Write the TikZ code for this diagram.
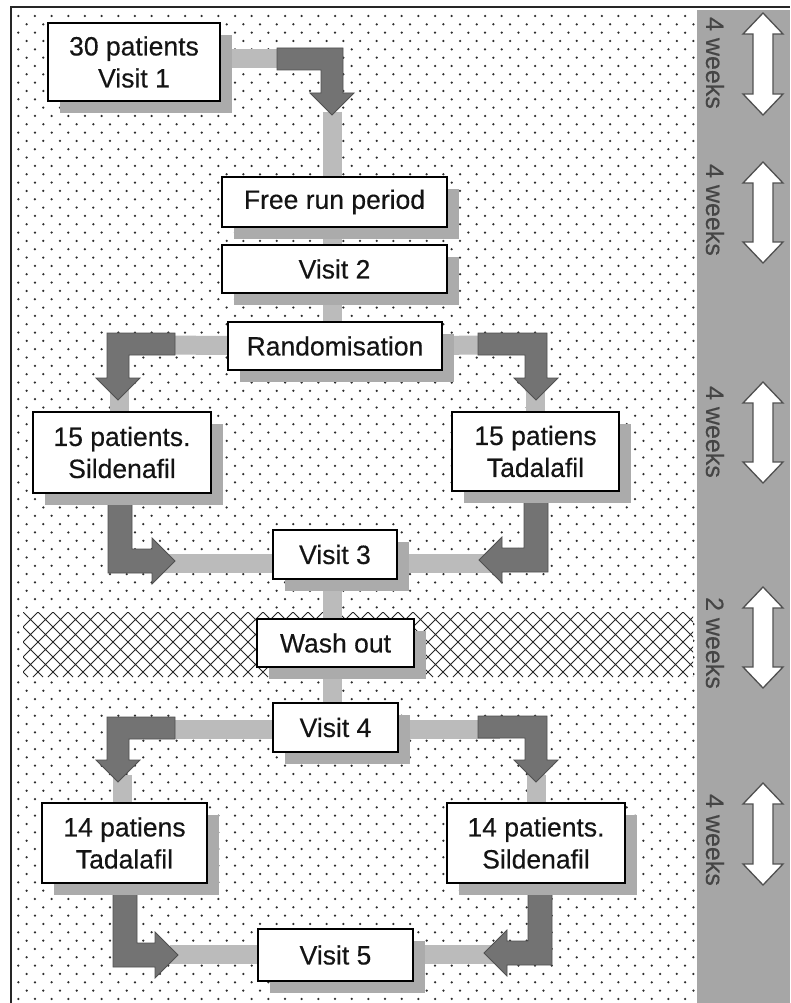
\documentclass[tikz,border=0pt]{standalone}
\usepackage{fontspec}
\setmainfont{Liberation Sans}
\newfontfamily\boxfont[FakeBold=0.35]{Liberation Sans}
\usetikzlibrary{shadows}
\pgfdeclarelayer{bg}\pgfdeclarelayer{mid}\pgfsetlayers{bg,mid,main}
\definecolor{bandgray}{HTML}{A6A6A6}
\definecolor{shadowgray}{HTML}{ABABAB}
\definecolor{barlight}{HTML}{BBBBBB}
\definecolor{arrowdark}{HTML}{737373}
\definecolor{arrowedge}{HTML}{505050}
\definecolor{dotcol}{HTML}{2E2E2E}
\definecolor{weekcol}{HTML}{454545}
\tikzset{
 box/.style={draw=black, line width=1.7pt, fill=white, align=center, inner sep=0pt,
   font=\boxfont\fontsize{26.5}{32}\selectfont, text=black!92,
   general shadow={fill=shadowgray, shadow xshift=12pt, shadow yshift=-12pt}},
 bar/.style={draw=barlight, line width=19pt},
 darrow/.style={fill=arrowdark, draw=arrowedge, line width=0.8pt, line join=miter},
 weeks/.style={rotate=-90, font=\boxfont\fontsize{25}{25}\selectfont, text=weekcol, inner sep=0pt},
 dbl/.style={fill=white, draw=arrowedge, line width=1.3pt},
 hatch/.style={draw=black!85, line width=0.9pt},
}
% L-shaped arrow: horizontal then down
\newcommand\bentA[4]{%
 \begin{scope}[shift={#2}, xscale=#1]
 \filldraw[darrow] (0,0) -- (#3,0) -- (#3,22) -- (22,22) -- (22,#4) -- (33,#4) -- (11,#4+22) -- (-11,#4) -- (0,#4) -- cycle;
 \end{scope}}
% L-shaped arrow: down then sideways
\newcommand\bentB[4]{%
 \begin{scope}[shift={#2}, xscale=#1]
 \filldraw[darrow] (0,-#3) -- (24,-#3) -- (24,-24) -- (#4,-24) -- (#4,-35) -- (#4+23,-12) -- (#4,11) -- (#4,0) -- (0,0) -- cycle;
 \end{scope}}
\newcommand\dblarr[2]{%
 \filldraw[dbl] (763,#1) -- (783,#1+21) -- (773,#1+21) -- (773,#2-21) -- (783,#2-21) -- (763,#2)
   -- (743,#2-21) -- (753,#2-21) -- (753,#1+21) -- (743,#1+21) -- cycle;}
\begin{document}
\begin{tikzpicture}[x=1pt,y=-1pt]
\useasboundingbox (0,0) rectangle (790,1003);
\begin{pgfonlayer}{bg}
\fill[white] (0,0) rectangle (790,1003);
\foreach \j in {0,...,118} {
  \pgfmathsetmacro\yy{16+\j*8.33}
  \pgfmathsetmacro\xo{18.3+mod(\j,2)*8.33}
  \fill[dotcol] \foreach \i in {0,...,40} { ({\xo+\i*16.67},\yy) circle (1.25) };
}
\fill[bandgray] (697,10) rectangle (790,1003);
\draw[line width=1.5pt, black!85] (11,1003) -- (11,7) -- (790,7);
\fill[white] (23,612) rectangle (693,677);
\begin{scope}
\clip (23,612) rectangle (693,677);
\draw[hatch] \foreach \k in {-5,...,50} {(23+\k*15,612) -- ++(65,65) (23+\k*15,612) -- ++(-65,65)};
\end{scope}
\end{pgfonlayer}

% boxes
\node[box, minimum width=172, minimum height=78] (v1) at (134,62) {30 patients\\Visit 1};
\node[box, minimum width=225, minimum height=50] (free) at (334.5,202) {Free run period};
\node[box, minimum width=225, minimum height=48] (v2) at (334.5,269) {Visit 2};
\node[box, minimum width=214, minimum height=48] (rand) at (335,346) {Randomisation};
\node[box, minimum width=178, minimum height=81] (s15) at (122,452.5) {15 patients.\\Sildenafil};
\node[box, minimum width=167, minimum height=79] (t15) at (535.5,451.5) {15 patiens\\Tadalafil};
\node[box, minimum width=124, minimum height=49] (v3) at (335,554.5) {Visit 3};
\node[box, minimum width=157, minimum height=48] (wash) at (335.5,643) {Wash out};
\node[box, minimum width=125, minimum height=49] (v4) at (335.5,727.5) {Visit 4};
\node[box, minimum width=165, minimum height=80] (t14) at (124.5,843) {14 patiens\\Tadalafil};
\node[box, minimum width=178, minimum height=80] (s14) at (536,843) {14 patients.\\Sildenafil};
\node[box, minimum width=155, minimum height=52] (v5) at (335.5,955) {Visit 5};

% connectors
\begin{pgfonlayer}{mid}
\coordinate (tip1) at (332,112);
\draw[bar] (v1.center |- 0,59) -- (300,59);
\draw[bar] (tip1) -- (tip1 |- rand.center);
\draw[bar] (tip1 |- v3.center) -- (tip1 |- v4.center);
\draw[bar] (150,345) -- (rand.center) -- (500,345);
\draw[bar] (119,390) -- (119 ,420);
\draw[bar] (535,390) -- (535,420);
\draw[bar] (160,563) -- (v3.center |- 0,563) -- (495,563);
\draw[bar] (150,729) -- (v4.center |- 0,729) -- (500,729);
\draw[bar] (122,775) -- (122,810);
\draw[bar] (536,775) -- (536,810);
\draw[bar] (170,954) -- (v5.center |- 0,954) -- (495,954);
\bentA{-1}{(343,48)}{66}{45}
\bentA{1}{(107,333)}{68}{45}
\bentA{-1}{(547,333)}{69}{45}
\bentA{1}{(107,717)}{68}{43}
\bentA{-1}{(547,716)}{69}{44}
\bentB{1}{(108,573)}{80}{44}
\bentB{-1}{(548,572)}{79}{46}
\bentB{1}{(113,967)}{84}{42}
\bentB{-1}{(552,965)}{82}{45}
\end{pgfonlayer}

% time scale
\node[weeks] (w1) at (715,63) {4 weeks};
\node[weeks] (w2) at (715,210) {4 weeks};
\node[weeks] (w3) at (715,432) {4 weeks};
\node[weeks] (w4) at (715,643) {2 weeks};
\node[weeks] (w5) at (715,840) {4 weeks};
\dblarr{13}{115}
\dblarr{162}{263}
\dblarr{382}{483}
\dblarr{587}{688}
\dblarr{783}{885}
\end{tikzpicture}
\end{document}
